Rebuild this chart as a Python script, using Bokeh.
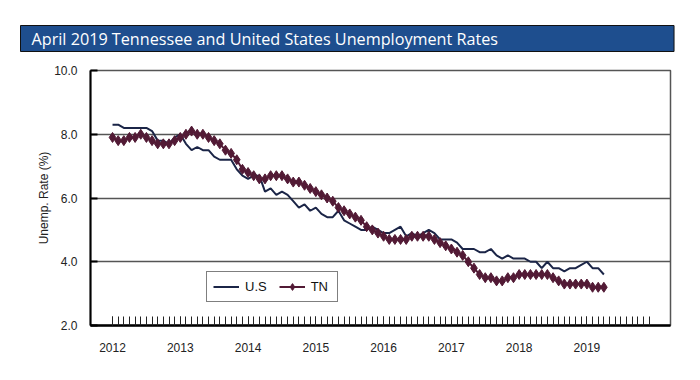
import numpy as np
from bokeh.plotting import figure
from bokeh.models import Range1d, FixedTicker, Legend, LegendItem
from bokeh.embed import file_html
from bokeh.resources import INLINE

title_text = "April 2019 Tennessee and United States Unemployment Rates"

# month index 0 = Jan 2012
year_labels = ["2012", "2013", "2014", "2015", "2016", "2017", "2018", "2019"]
year_start_month = [0, 12, 24, 36, 48, 60, 72, 84]
tick_months = list(range(96))  # monthly tick marks Jan 2012 - Dec 2019

us_rate = [
    8.3, 8.3, 8.2, 8.2, 8.2, 8.2, 8.2, 8.1, 7.8, 7.8, 7.7, 7.9,
    8.0, 7.7, 7.5, 7.6, 7.5, 7.5, 7.3, 7.2, 7.2, 7.2, 6.9, 6.7,
    6.6, 6.7, 6.7, 6.2, 6.3, 6.1, 6.2, 6.1, 5.9, 5.7, 5.8, 5.6,
    5.7, 5.5, 5.4, 5.4, 5.6, 5.3, 5.2, 5.1, 5.0, 5.0, 5.1, 5.0,
    4.9, 4.9, 5.0, 5.1, 4.8, 4.9, 4.8, 4.9, 5.0, 4.9, 4.7, 4.7,
    4.7, 4.6, 4.4, 4.4, 4.4, 4.3, 4.3, 4.4, 4.2, 4.1, 4.2, 4.1,
    4.1, 4.1, 4.0, 4.0, 3.8, 4.0, 3.8, 3.8, 3.7, 3.8, 3.8, 3.9,
    4.0, 3.8, 3.8, 3.6,
]

tn_rate = [
    7.9, 7.8, 7.8, 7.9, 7.9, 8.0, 7.9, 7.8, 7.7, 7.7, 7.7, 7.8,
    7.9, 8.0, 8.1, 8.0, 8.0, 7.9, 7.8, 7.7, 7.5, 7.4, 7.2, 6.9,
    6.8, 6.7, 6.6, 6.6, 6.7, 6.7, 6.7, 6.6, 6.5, 6.5, 6.4, 6.3,
    6.2, 6.1, 6.0, 5.9, 5.7, 5.6, 5.5, 5.4, 5.3, 5.1, 5.0, 4.9,
    4.8, 4.7, 4.7, 4.7, 4.7, 4.8, 4.8, 4.8, 4.8, 4.7, 4.6, 4.5,
    4.4, 4.3, 4.2, 4.0, 3.8, 3.6, 3.5, 3.5, 3.4, 3.4, 3.5, 3.5,
    3.6, 3.6, 3.6, 3.6, 3.6, 3.6, 3.5, 3.4, 3.3, 3.3, 3.3, 3.3,
    3.3, 3.2, 3.2, 3.2,
]

months = list(range(len(us_rate)))

FONT = "Liberation Sans"
US_COLOR = "#1b2547"
TN_COLOR = "#521a35"

p = figure(width=680, height=369, x_range=Range1d(-3.9, 98.8), y_range=Range1d(2, 10),
           toolbar_location=None, output_backend="svg",
           min_border_left=90, min_border_right=10, min_border_top=70, min_border_bottom=44,
           background_fill_color="white", border_fill_color="white",
           outline_line_color="#555555", outline_line_width=1.5)

# ---- title bar ----
p.title.text = title_text
p.title.align = "left"
p.title.offset = -70
p.title.standoff = 38
p.title.text_font = "Open Sans"
p.title.text_font_size = "16.2px"
p.title.text_font_style = "normal"
p.title.text_color = "white"
p.title.background_fill_color = "#1e4e8e"
p.title.background_fill_alpha = 1
p.title.border_line_color = "#111111"
p.title.border_line_width = 1
p.title.padding = (11, 176, 2, 2)

p.xgrid.visible = False
p.ygrid.ticker = FixedTicker(ticks=[4, 6, 8])
p.ygrid.grid_line_color = "#555555"
p.ygrid.grid_line_width = 1.3

p.yaxis.ticker = FixedTicker(ticks=[2, 4, 6, 8, 10])
p.yaxis.major_label_overrides = {v: f"{v:.1f}" for v in [2, 4, 6, 8, 10]}
p.yaxis.major_tick_in = 7
p.yaxis.major_tick_out = 0
p.yaxis.minor_tick_line_color = None
p.yaxis.axis_line_color = "black"
p.yaxis.axis_line_width = 2
p.yaxis.major_tick_line_color = "black"
p.yaxis.major_tick_line_width = 2
p.yaxis.major_label_standoff = 13
p.yaxis.major_label_text_font = FONT
p.yaxis.major_label_text_font_size = "12px"
p.yaxis.major_label_text_color = "#222222"
p.yaxis.axis_label = "Unemp. Rate (%)"
p.yaxis.axis_label_text_font = FONT
p.yaxis.axis_label_text_font_size = "12px"
p.yaxis.axis_label_text_font_style = "normal"
p.yaxis.axis_label_text_color = "#222222"
p.yaxis.axis_label_standoff = 0

p.xaxis.ticker = FixedTicker(ticks=year_start_month, minor_ticks=tick_months)
p.xaxis.major_label_overrides = {m: y for m, y in zip(year_start_month, year_labels)}
p.xaxis.major_tick_in = 9
p.xaxis.major_tick_out = 0
p.xaxis.minor_tick_in = 9
p.xaxis.minor_tick_out = 0
p.xaxis.major_tick_line_color = "#222222"
p.xaxis.minor_tick_line_color = "#222222"
p.xaxis.major_tick_line_width = 1
p.xaxis.minor_tick_line_width = 1
p.xaxis.axis_line_color = "black"
p.xaxis.axis_line_width = 2.5
p.xaxis.major_label_standoff = 17
p.xaxis.major_label_text_font = FONT
p.xaxis.major_label_text_font_size = "12px"
p.xaxis.major_label_text_color = "#222222"

r_us = p.line(months, us_rate, line_color=US_COLOR, line_width=2)
r_tn_line = p.line(months, tn_rate, line_color=TN_COLOR, line_width=2)
r_tn_pts = p.scatter(months, tn_rate, marker="diamond", size=10,
                     fill_color=TN_COLOR, line_color=TN_COLOR)

legend = Legend(items=[LegendItem(label="U.S", renderers=[r_us]),
                       LegendItem(label="TN", renderers=[r_tn_line, r_tn_pts])],
                location=(116, 23), orientation="horizontal",
                border_line_color="black", border_line_width=1,
                background_fill_color="white", background_fill_alpha=1,
                label_text_font=FONT, label_text_font_size="13px",
                label_text_color="#111111",
                glyph_width=26, glyph_height=17, label_height=17,
                label_standoff=6, spacing=12, padding=6, margin=0)
p.add_layout(legend)

open("out.html", "w").write(file_html(p, INLINE))
